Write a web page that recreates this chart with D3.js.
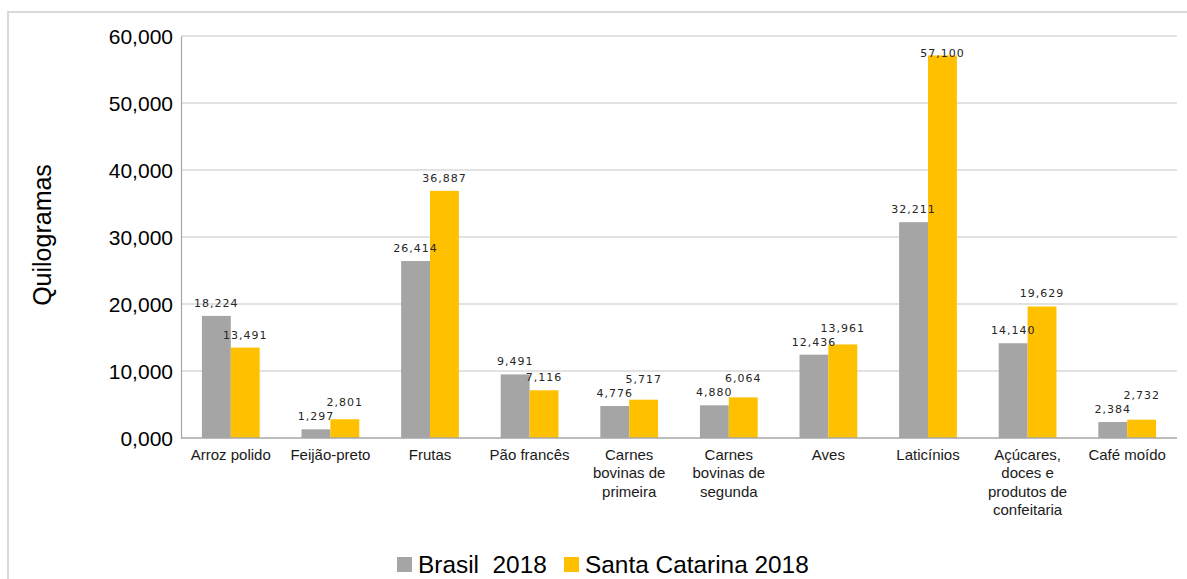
<!DOCTYPE html>
<html>
<head>
<meta charset="utf-8">
<script src="https://cdn.jsdelivr.net/npm/d3@7"></script>
<style>
  html, body { margin: 0; padding: 0; background: #fff; }
  svg { display: block; }
</style>
</head>
<body>
<svg id="chart" width="1187" height="579"></svg>
<script>
const categories = ["Arroz polido", "Feijão-preto", "Frutas", "Pão francês", "Carnes bovinas de primeira", "Carnes bovinas de segunda", "Aves", "Laticínios", "Açúcares, doces e produtos de confeitaria", "Café moído"];
const brasil2018 = [18224, 1297, 26414, 9491, 4776, 4880, 12436, 32211, 14140, 2384];
const santaCatarina2018 = [13491, 2801, 36887, 7116, 5717, 6064, 13961, 57100, 19629, 2732];
const seriesNames = ["Brasil  2018", "Santa Catarina 2018"];
const yTicks = [0, 10000, 20000, 30000, 40000, 50000, 60000];
const yTitle = "Quilogramas";

const colors = ["#a5a5a5", "#ffc000"];
const svg = d3.select("#chart");
const W = 1187, H = 579;
const plot = { left: 181, right: 1177, top: 36, bottom: 438 };
const FONT = "Liberation Sans, Arial, sans-serif";

// outer chart border
svg.append("rect").attr("x", 8).attr("y", 12).attr("width", W + 10).attr("height", H + 10)
  .attr("fill", "#fff").attr("stroke", "#d9d9d9").attr("stroke-width", 2);

const x = d3.scaleBand().domain(categories).range([plot.left, plot.right])
  .paddingInner(0.42).paddingOuter(0.21);
const xs = d3.scaleBand().domain(seriesNames).range([0, x.bandwidth()]);
const y = d3.scaleLinear().domain([0, 60000]).range([plot.bottom, plot.top]);
const fmt = d3.format(",");

// gridlines
svg.append("g").selectAll("line").data(yTicks.filter(d => d > 0)).join("line")
  .attr("x1", plot.left).attr("x2", plot.right)
  .attr("y1", d => y(d)).attr("y2", d => y(d))
  .attr("stroke", "#d9d9d9").attr("stroke-width", 1.5);

// y axis
const yAxis = d3.axisLeft(y).tickValues(yTicks).tickSize(0).tickPadding(8)
  .tickFormat(d => (d === 0 ? "0" : d3.format(",")(d / 1000)) + ",000");
const gy = svg.append("g").attr("transform", `translate(${plot.left},0)`).call(yAxis);
gy.select(".domain").attr("stroke", "#a6a6a6").attr("stroke-width", 1.2);
gy.selectAll("text").attr("font-family", FONT)
  .attr("font-size", 21).attr("fill", "#000").attr("dy", "0.35em");

// bars
const series = [brasil2018, santaCatarina2018];
series.forEach((vals, si) => {
  svg.append("g").selectAll("rect").data(categories).join("rect")
    .attr("x", c => x(c) + xs(seriesNames[si]))
    .attr("y", (c, i) => y(vals[i]))
    .attr("width", xs.bandwidth())
    .attr("height", (c, i) => y(0) - y(vals[i]))
    .attr("fill", colors[si]);
});

// x axis baseline
svg.append("line").attr("x1", plot.left).attr("x2", plot.right)
  .attr("y1", y(0)).attr("y2", y(0)).attr("stroke", "#a6a6a6").attr("stroke-width", 1.5);

// data labels (drawn after all bars), with simple collision avoidance
const gap = 9, minSep = 14, topLimit = plot.top + 21;
const labels = [];
categories.forEach((c, i) => {
  let b0 = y(brasil2018[i]) - gap;
  let b1 = y(santaCatarina2018[i]) - gap;
  if (Math.abs(b0 - b1) < minSep) {
    if (santaCatarina2018[i] >= brasil2018[i]) b1 = b0 - minSep; else b0 = b1 - minSep;
  }
  b0 = Math.max(b0, topLimit); b1 = Math.max(b1, topLimit);
  labels.push({ c, si: 0, v: brasil2018[i], yb: b0 });
  labels.push({ c, si: 1, v: santaCatarina2018[i], yb: b1 });
});
svg.append("g").selectAll("text").data(labels).join("text")
  .attr("x", d => x(d.c) + xs(seriesNames[d.si]) + xs.bandwidth() / 2)
  .attr("y", d => d.yb)
  .attr("text-anchor", "middle")
  .attr("font-family", "DejaVu Sans, sans-serif")
  .attr("font-size", 11).attr("letter-spacing", 1)
  .attr("fill", "#262626")
  .text(d => fmt(d.v));

// category labels with wrapping
const measure = svg.append("text").attr("font-family", FONT).attr("font-size", 15);
function wrap(str, maxW) {
  const words = str.split(" ");
  const lines = [];
  let cur = "";
  words.forEach(w => {
    const t = cur ? cur + " " + w : w;
    measure.text(t);
    if (cur && measure.node().getComputedTextLength() > maxW) { lines.push(cur); cur = w; }
    else cur = t;
  });
  if (cur) lines.push(cur);
  return lines;
}
const xl = svg.append("g");
categories.forEach(c => {
  const lines = wrap(c, 92);
  const t = xl.append("text").attr("text-anchor", "middle")
    .attr("font-family", FONT).attr("font-size", 15)
    .attr("fill", "#1a1a1a");
  lines.forEach((ln, i) => {
    t.append("tspan").attr("x", x(c) + x.bandwidth() / 2).attr("y", y(0) + 22 + i * 18.3).text(ln);
  });
});
measure.remove();

// y title
svg.append("text").attr("transform", `translate(51,${(plot.top + plot.bottom) / 2 - 2}) rotate(-90)`)
  .attr("text-anchor", "middle").attr("font-family", FONT)
  .attr("font-size", 25).attr("fill", "#000").text(yTitle);

// legend
const legend = svg.append("g");
const legX = [397, 564];
seriesNames.forEach((n, i) => {
  legend.append("rect").attr("x", legX[i]).attr("y", 557).attr("width", 15).attr("height", 15).attr("fill", colors[i]);
  legend.append("text").attr("x", legX[i] + 21).attr("y", 572.5)
    .attr("font-family", FONT).attr("font-size", 24.4)
    .attr("fill", "#000").style("white-space", "pre").text(n);
});
</script>
</body>
</html>
